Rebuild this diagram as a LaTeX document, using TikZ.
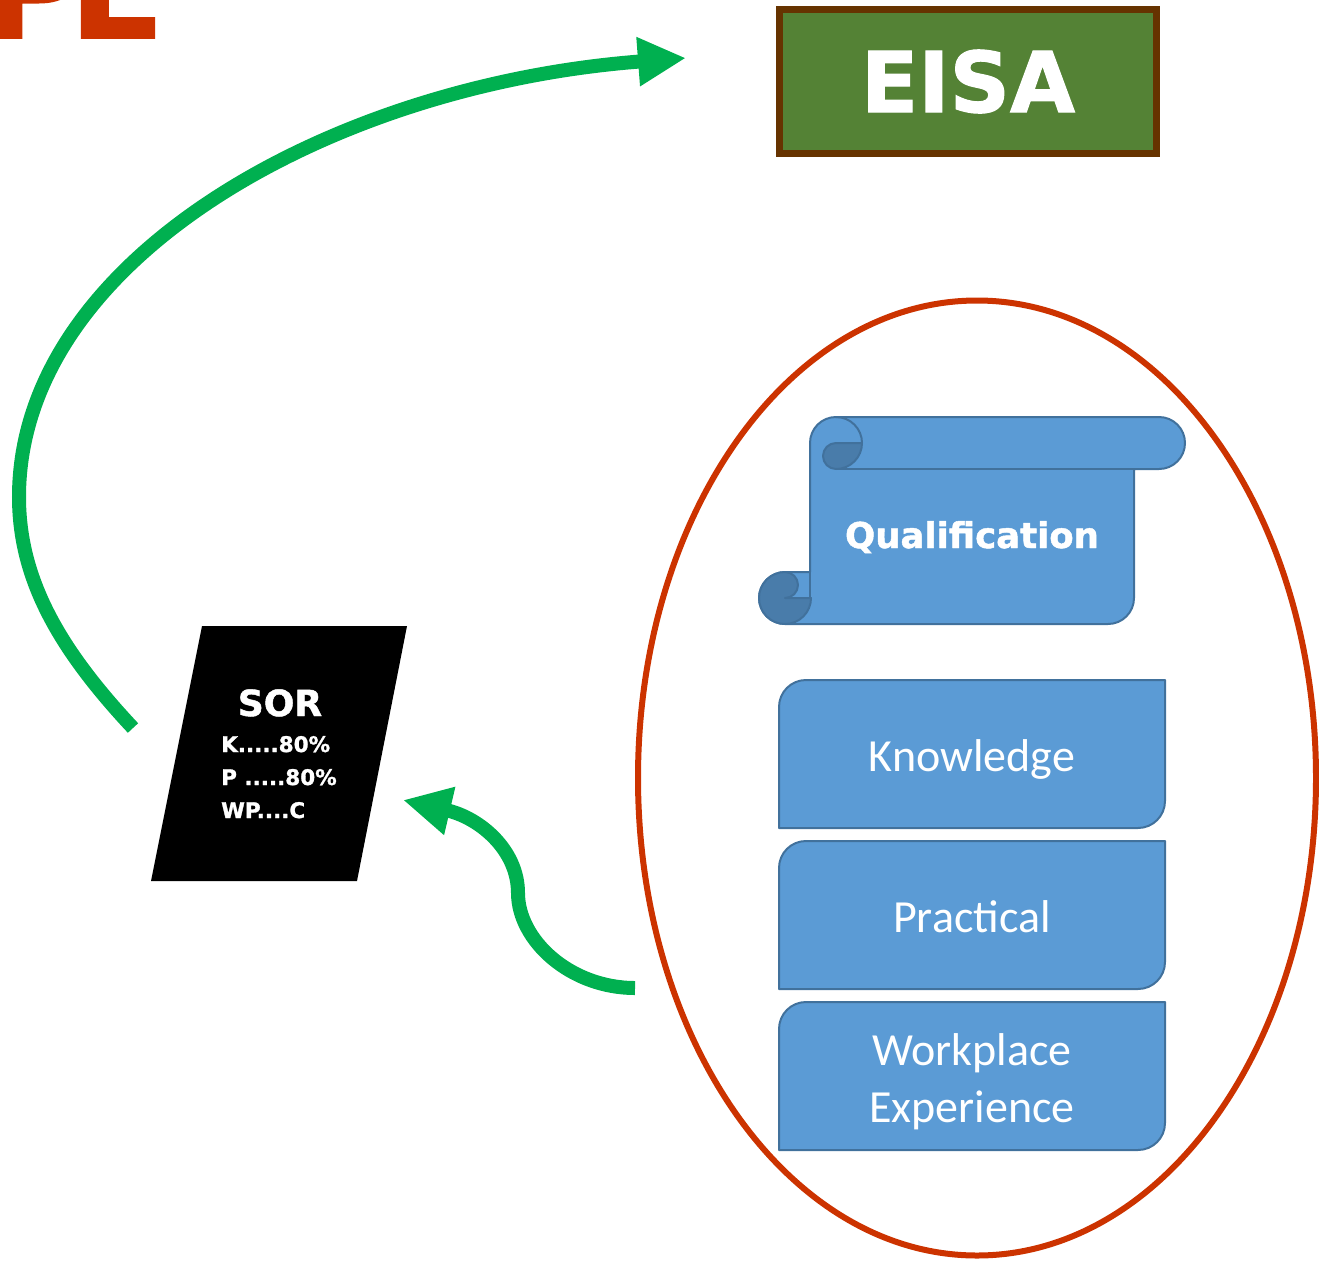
\documentclass[tikz,border=0pt]{standalone}
\usepackage{fontspec}
\setmainfont{Carlito}
\newfontfamily\heavyfam{DejaVu Sans}[BoldFeatures={FakeBold=1.3}]
\newcommand\hv{\heavyfam\bfseries}
\usetikzlibrary{arrows.meta,shapes.geometric}
\definecolor{arrowgreen}{HTML}{00B050}
\definecolor{ovalred}{HTML}{CC3300}
\definecolor{eisagreen}{HTML}{548235}
\definecolor{eisabrown}{HTML}{663300}
\definecolor{boxblue}{HTML}{5B9BD5}
\definecolor{boxline}{HTML}{41719C}
\definecolor{curlblue}{HTML}{497CAA}
\tikzset{
  blueshape/.style={fill=boxblue,draw=boxline,line width=2pt,line join=round},
  curlshape/.style={fill=curlblue,draw=boxline,line width=2pt,line join=round},
  whitetext/.style={text=white,inner sep=0pt},
  boxtext/.style={whitetext,font=\fontsize{46}{56}\selectfont,anchor=base},
  sortext/.style={whitetext,font=\hv\fontsize{21.5}{25}\selectfont,anchor=base west},
  greenarrow/.style={draw=arrowgreen,line width=14pt,-{Triangle[length=48pt,width=46pt]}},
}
\newcommand\diagbox[4]{%
  \path[blueshape] (#1,#4) -- (#1,#2+27) arc[start angle=180,end angle=270,radius=27]
    -- (#3,#2) -- (#3,#4-27) arc[start angle=0,end angle=90,radius=27] -- cycle;}
\begin{document}
\begin{tikzpicture}[x=1pt,y=-1pt]
\useasboundingbox (0,0) rectangle (1319,1261);

% cut-off title letters
\node[anchor=base west,inner sep=0pt,text=ovalred,font=\hv\fontsize{140}{140}\selectfont] (title) at (-18,38) {P\kern-16pt L};

% EISA box
\node[draw=eisabrown,line width=7pt,fill=eisagreen,minimum width=377pt,minimum height=144pt,
      text=white,font=\hv\fontsize{84}{84}\selectfont,inner sep=0pt] (eisa) at (968,81.5) {EISA};

% oval
\node[draw=ovalred,line width=6pt,ellipse,minimum width=678pt,minimum height=955pt,inner sep=0pt] (oval) at (977,778) {};

% scroll
\path[blueshape] (810,443) arc[start angle=180,end angle=270,radius=26] -- (1159,417)
   arc[start angle=270,end angle=450,radius=26] -- (1134,469) -- (1134,598)
   arc[start angle=0,end angle=90,radius=26] -- (785,624)
   arc[start angle=90,end angle=270,radius=26] -- (810,572) -- cycle;
\draw[boxline,line width=2pt] (836,469) -- (1134,469);
\draw[boxline,line width=2pt] (836,417) arc[start angle=270,end angle=360,radius=26];
\draw[boxline,line width=2pt] (810,572) -- (810,600);
\path[curlshape] (836,443) -- (862,443) arc[start angle=0,end angle=90,radius=26]
   arc[start angle=90,end angle=270,radius=13] -- cycle;
\path[curlshape] (785,598) -- (811,598) arc[start angle=0,end angle=270,radius=26]
   arc[start angle=270,end angle=450,radius=13] -- cycle;
\node[whitetext,font=\hv\fontsize{35.5}{36}\selectfont,anchor=base] (qual) at (972,548) {Qualification};

% three boxes
\diagbox{779}{680}{1165}{828}
\node[boxtext] (know) at (972,771) {Knowledge};
\diagbox{779}{841}{1165}{989}
\node[boxtext] (prac) at (972,932) {Practical};
\diagbox{779}{1002}{1165}{1150}
\node[boxtext] (work1) at (972,1065) {Workplace};
\node[boxtext] (work2) at (972,1122) {Experience};

% SOR parallelogram
\fill[black] (202,626) -- (407,626) -- (357,881) -- (151,881) -- cycle;
\node[whitetext,font=\hv\fontsize{36}{36}\selectfont,anchor=base] (sor) at (280,716) {SOR};
\node[sortext] (sk) at (221,752) {K.....80\%};
\node[sortext] (sp) at (221,785) {P .....80\%};
\node[sortext] (swp) at (221,818) {WP....C};

% arrows
\coordinate (bigstart) at (133,728);
\coordinate (bigend) at (686,58);
\coordinate (smallstart) at (635,988);
\coordinate (smallend) at (403,800);
\draw[greenarrow] (bigstart) .. controls (60,650) and (19,580) .. (19,497)
   .. controls (19,260) and (330,85) .. (bigend);
\draw[greenarrow] (smallstart) .. controls (570,988) and (518,940) .. (518,893)
   .. controls (518,850) and (480,818) .. (smallend);
\end{tikzpicture}
\end{document}
